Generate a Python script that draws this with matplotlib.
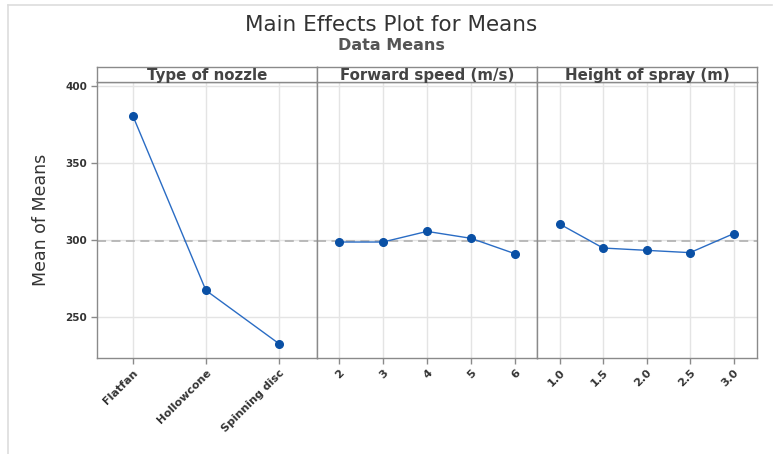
import matplotlib
matplotlib.use("Agg")
import matplotlib.pyplot as plt
from matplotlib.lines import Line2D

# factor levels and mean of means
nozzle_levels = ["Flatfan", "Hollowcone", "Spinning disc"]
nozzle_means = [380.9, 267.5, 232.9]

speed_levels = [2, 3, 4, 5, 6]
speed_means = [298.9, 298.9, 305.8, 301.3, 291.3]

height_levels = [1.0, 1.5, 2.0, 2.5, 3.0]
height_means = [310.6, 295.0, 293.5, 292.0, 304.3]

grand_mean = 299.3

panels = [
    ("Type of nozzle", [0, 1, 2], nozzle_means, nozzle_levels, (-0.49, 2.52)),
    ("Forward speed (m/s)", speed_levels, speed_means, [str(v) for v in speed_levels], (1.5, 6.5)),
    ("Height of spray (m)", height_levels, height_means, ["%.1f" % v for v in height_levels], (0.74, 3.27)),
]

W, H = 783, 454
fig = plt.figure(figsize=(W / 100, H / 100), dpi=100)

frame_col = "#8a8a8a"
grid_col = "#e4e4e4"
line_col = "#2a6cc4"
dot_col = "#0a50a5"

left = 97 / W
pw = 220 / W
bottom = 1 - 358 / H
top = 1 - 82.3 / H
strip_h = 15.6 / H

for i, (name, xs, ys, labels, xlim) in enumerate(panels):
    ax = fig.add_axes([left + i * pw, bottom, pw, top - bottom])
    ax.set_xlim(*xlim)
    ax.set_ylim(223.6, 402.6)
    ax.set_xticks(xs)
    ax.set_xticklabels(labels, rotation=45, ha="right", rotation_mode="anchor",
                       fontsize=8, fontweight="bold", color="#333333")
    ax.set_yticks([250, 300, 350, 400])
    ax.grid(True, color=grid_col, linewidth=1)
    ax.set_axisbelow(True)
    ax.axhline(grand_mean, color="#b5b5b5", linestyle=(0, (5, 3)), linewidth=1.3, zorder=1)
    ax.plot(xs, ys, color=line_col, linewidth=1, zorder=3)
    ax.plot(xs, ys, "o", color=dot_col, markersize=5.5, zorder=4)
    for s in ax.spines.values():
        s.set_color(frame_col)
        s.set_linewidth(1)
    ax.tick_params(axis="x", colors=frame_col, length=4, width=1, pad=3, labelcolor="#333333")
    if i == 0:
        ax.tick_params(axis="y", colors=frame_col, length=4, width=1, pad=3, labelcolor="#333333")
        for t in ax.get_yticklabels():
            t.set_fontsize(7.5)
            t.set_fontweight("bold")
        ax.set_ylabel("Mean of Means", fontsize=12.5, color="#333333", labelpad=11)
    else:
        ax.tick_params(axis="y", left=False, labelleft=False)

    # header strip with factor name
    hx = fig.add_axes([left + i * pw, top, pw, strip_h])
    hx.set_xticks([])
    hx.set_yticks([])
    for s in hx.spines.values():
        s.set_color(frame_col)
        s.set_linewidth(1)
    hx.text(0.5, 0.45, name, ha="center", va="center", fontsize=10.8,
            fontweight="bold", color="#444444", transform=hx.transAxes)

fig.text(0.5, 1 - 25 / H, "Main Effects Plot for Means", ha="center", va="center",
         fontsize=15.5, color="#333333")
fig.text(0.5, 1 - 46 / H, "Data Means", ha="center", va="center",
         fontsize=11.5, fontweight="bold", color="#555555")

# light outer border, top and left edges
fig.add_artist(Line2D([8 / W, 8 / W], [0, 1 - 5 / H], color="#dddddd", linewidth=1.2))
fig.add_artist(Line2D([8 / W, 772 / W], [1 - 5 / H, 1 - 5 / H], color="#dddddd", linewidth=1.2))

fig.savefig("out.png", dpi=100)
